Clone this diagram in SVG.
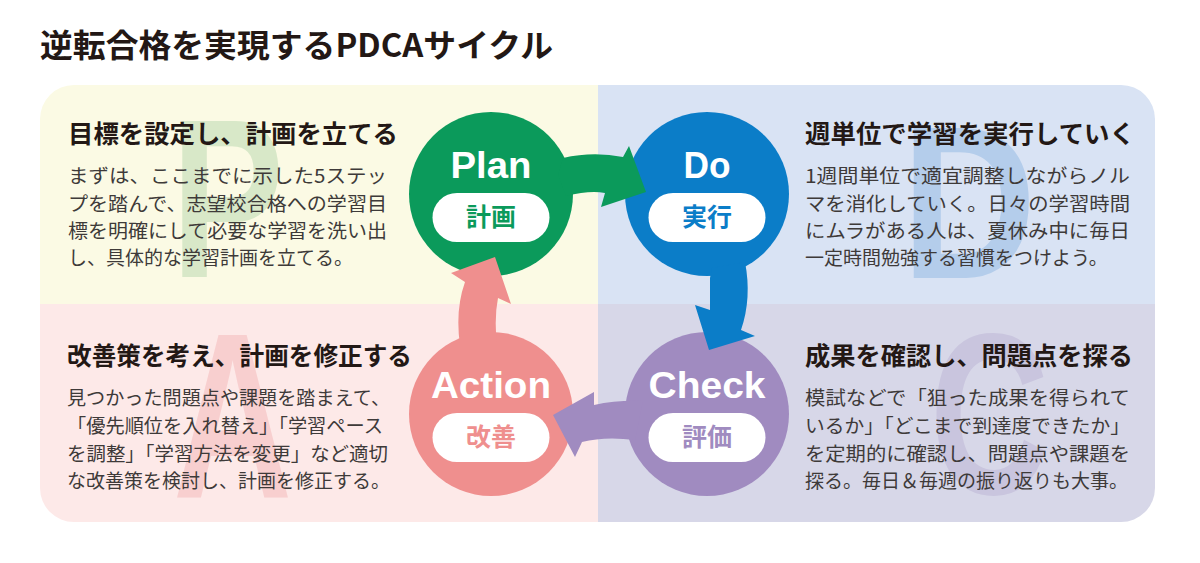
<svg xmlns="http://www.w3.org/2000/svg" width="1200" height="563" viewBox="0 0 1200 563">
<style>
.title{font-family:"Noto Sans CJK JP","Noto Sans",sans-serif;font-weight:700;font-size:32px;fill:#231815}
.head{font-family:"Noto Sans CJK JP","Noto Sans",sans-serif;font-weight:700;font-size:25px;fill:#231815}
.body{font-family:"Noto Sans CJK JP","Noto Sans",sans-serif;font-weight:400;font-size:19px;fill:#3e3a39}
.big{font-family:"Liberation Sans",Arial,sans-serif;font-weight:700}
.en{font-family:"Liberation Sans",Arial,sans-serif;font-weight:700;font-size:37px;fill:#fff;text-anchor:middle}
.jp{font-family:"Noto Sans CJK JP",sans-serif;font-weight:700;font-size:25px;text-anchor:middle}
.pill{fill:#fff}
</style>
<defs>
<clipPath id="panel"><rect x="40" y="85" width="1115" height="437" rx="34"/></clipPath>
</defs>
<rect width="1200" height="563" fill="#fff"/>
<text class="title" x="40" y="57" textLength="513" lengthAdjust="spacingAndGlyphs">逆転合格を実現するPDCAサイクル</text>

<g id="background" clip-path="url(#panel)">
<rect x="40" y="85" width="558" height="219" fill="#fbfae4"/>
<rect x="598" y="85" width="557" height="219" fill="#d9e3f4"/>
<rect x="40" y="304" width="558" height="218" fill="#fde9e8"/>
<rect x="598" y="304" width="557" height="218" fill="#d7d7e8"/>
<text class="big" transform="translate(183,277) scale(0.75,1)" x="-16" y="0" font-size="226" fill="#d8e8c8">P</text>
<text class="big" transform="translate(915,278) scale(0.86,1)" x="-16" y="0" font-size="218" fill="#b4cdeb">D</text>
<text class="big" transform="translate(173,497) scale(0.7,1)" x="0" y="0" font-size="236" fill="#f8cfcf">A</text>
<text class="big" transform="translate(937,494) scale(0.72,1)" x="-10" y="0" font-size="230" fill="#c9c5de">C</text>
</g>

<g id="text-plan">
<text class="head" x="68" y="143" textLength="330" lengthAdjust="spacingAndGlyphs">目標を設定し、計画を立てる</text>
<text class="body" x="68" y="183" textLength="319" lengthAdjust="spacingAndGlyphs">まずは、ここまでに示した5ステッ</text>
<text class="body" x="68" y="211" textLength="319" lengthAdjust="spacingAndGlyphs">プを踏んで、志望校合格への学習目</text>
<text class="body" x="68" y="238" textLength="319" lengthAdjust="spacingAndGlyphs">標を明確にして必要な学習を洗い出</text>
<text class="body" x="68" y="265">し、具体的な学習計画を立てる。</text>
</g>
<g id="text-do">
<text class="head" x="805" y="143" textLength="330" lengthAdjust="spacingAndGlyphs">週単位で学習を実行していく</text>
<text class="body" x="805" y="183" textLength="325" lengthAdjust="spacingAndGlyphs">1週間単位で適宜調整しながらノル</text>
<text class="body" x="805" y="211" textLength="325" lengthAdjust="spacingAndGlyphs">マを消化していく。日々の学習時間</text>
<text class="body" x="805" y="238" textLength="325" lengthAdjust="spacingAndGlyphs">にムラがある人は、夏休み中に毎日</text>
<text class="body" x="805" y="265">一定時間勉強する習慣をつけよう。</text>
</g>
<g id="text-action">
<text class="head" x="67" y="365" textLength="345" lengthAdjust="spacingAndGlyphs">改善策を考え、計画を修正する</text>
<text class="body" x="67" y="405" textLength="323" lengthAdjust="spacingAndGlyphs">見つかった問題点や課題を踏まえて、</text>
<text class="body" x="67" y="433" textLength="316" lengthAdjust="spacingAndGlyphs">「優先順位を入れ替え」「学習ペース</text>
<text class="body" x="67" y="461" textLength="321" lengthAdjust="spacingAndGlyphs">を調整」「学習方法を変更」など適切</text>
<text class="body" x="67" y="488">な改善策を検討し、計画を修正する。</text>
</g>
<g id="text-check">
<text class="head" x="805" y="365" textLength="328" lengthAdjust="spacingAndGlyphs">成果を確認し、問題点を探る</text>
<text class="body" x="805" y="405" textLength="325" lengthAdjust="spacingAndGlyphs">模試などで「狙った成果を得られて</text>
<text class="body" x="805" y="433" textLength="325" lengthAdjust="spacingAndGlyphs">いるか」「どこまで到達度できたか」</text>
<text class="body" x="805" y="461" textLength="325" lengthAdjust="spacingAndGlyphs">を定期的に確認し、問題点や課題を</text>
<text class="body" x="805" y="488">探る。毎日＆毎週の振り返りも大事。</text>
</g>

<g id="node-plan-circle"><circle cx="491" cy="194" r="82" fill="#0b9a5b"/></g>
<g id="node-do-circle"><circle cx="707" cy="194" r="82" fill="#0b7dc8"/></g>
<g id="node-check-circle"><circle cx="707" cy="414" r="82" fill="#a08bc0"/></g>
<g id="node-action-circle"><circle cx="491" cy="414" r="82" fill="#ef8f8e"/></g>

<g id="connectors">
<path d="M 558,175 L 563,158 Q 593,151 623,157 L 629,146 L 646,192 L 601,207 L 605,193 Q 590,190 566,196 Z" fill="#0b9a5b"/>
<path d="M 712,268 L 710,278 L 710,310 L 695,305 L 709,350 L 755,336 L 741,330 Q 752,298 745,262 Z" fill="#0b7dc8"/>
<path d="M 643,401 Q 617,400 594,405 L 594,392 L 553,415 L 575,457 L 582,442 Q 605,436 635,440 Z" fill="#a08bc0"/>
<path d="M 460,345 Q 455,310 465,282 L 451,273 L 495,257 L 511,304 L 498,298 Q 494,318 497,345 Z" fill="#ef8f8e"/>
</g>

<g id="node-plan">
<text class="en" x="491" y="178" textLength="81" lengthAdjust="spacingAndGlyphs">Plan</text>
<rect class="pill" x="432.5" y="193" width="117" height="49" rx="24.5"/>
<text class="jp" x="491" y="226" fill="#0b9a5b">計画</text>
</g>
<g id="node-do">
<text class="en" x="707" y="178" textLength="47" lengthAdjust="spacingAndGlyphs">Do</text>
<rect class="pill" x="648.5" y="193" width="117" height="49" rx="24.5"/>
<text class="jp" x="707" y="226" fill="#0b7dc8">実行</text>
</g>
<g id="node-check">
<text class="en" x="707" y="398" textLength="117" lengthAdjust="spacingAndGlyphs">Check</text>
<rect class="pill" x="648.5" y="413" width="117" height="49" rx="24.5"/>
<text class="jp" x="707" y="446" fill="#a08bc0">評価</text>
</g>
<g id="node-action">
<text class="en" x="491" y="398" textLength="120" lengthAdjust="spacingAndGlyphs">Action</text>
<rect class="pill" x="432.5" y="413" width="117" height="49" rx="24.5"/>
<text class="jp" x="491" y="446" fill="#ef8f8e">改善</text>
</g>
</svg>
